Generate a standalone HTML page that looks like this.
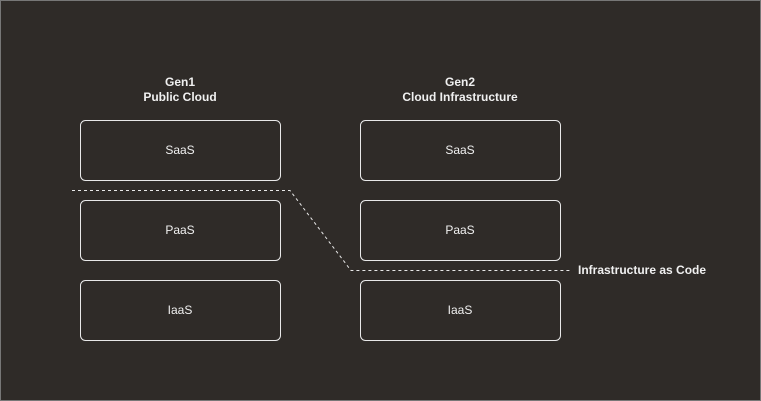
<!DOCTYPE html>
<html><head><style>
html,body{margin:0;padding:0;background:#2f2b28;}
svg{display:block;}
text{font-family:"Liberation Sans",Arial,sans-serif;fill:#f0f0f0;}
</style></head><body>
<svg width="761" height="401" viewBox="0 0 761 401" xmlns="http://www.w3.org/2000/svg">
<rect x="0.5" y="0.5" width="760" height="400" fill="#2f2b28" stroke="#777" stroke-width="1"/>
<g font-size="12" font-weight="bold" text-anchor="middle">
<text x="180" y="86">Gen1</text><text x="180" y="101">Public Cloud</text>
<text x="460" y="86">Gen2</text><text x="460" y="101">Cloud Infrastructure</text>
</g>
<g fill="none" stroke="#e8e8e8" stroke-width="1">
<rect x="80.5" y="120.5" width="200" height="60" rx="5"/>
<rect x="80.5" y="200.5" width="200" height="60" rx="5"/>
<rect x="80.5" y="280.5" width="200" height="60" rx="5"/>
<rect x="360.5" y="120.5" width="200" height="60" rx="5"/>
<rect x="360.5" y="200.5" width="200" height="60" rx="5"/>
<rect x="360.5" y="280.5" width="200" height="60" rx="5"/>
<path d="M72 190.5 H290 L351 270.5 H570" stroke-dasharray="3 3"/>
</g>
<g font-size="12" text-anchor="middle">
<text x="180" y="154">SaaS</text><text x="180" y="234">PaaS</text><text x="180" y="314">IaaS</text>
<text x="460" y="154">SaaS</text><text x="460" y="234">PaaS</text><text x="460" y="314">IaaS</text>
</g>
<text x="578" y="274" font-size="12" font-weight="bold">Infrastructure as Code</text>
</svg>
</body></html>
